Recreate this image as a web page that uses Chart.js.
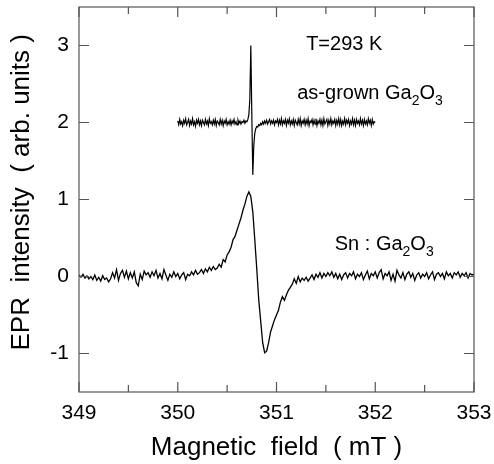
<!DOCTYPE html>
<html>
<head>
<meta charset="utf-8">
<script src="https://cdn.jsdelivr.net/npm/chart.js@4.4.1/dist/chart.umd.min.js"></script>
<style>
html, body { margin: 0; padding: 0; background: #fff; }
#wrap { width: 494px; height: 464px; }
</style>
</head>
<body>
<div id="wrap"><canvas id="epr" width="494" height="464"></canvas></div>
<script>
// Sampling grids (mT)
const snStart = 349.0, snStep = 0.02;
const grownStart = 350.0, grownStep = 0.01;

// Sn:Ga2O3 spectrum
const snValues = [
	0.02,-0.01,0.03,-0.02,0.01,-0.03,0.00,-0.04,0.02,-0.05,
	-0.01,-0.06,0.01,-0.04,-0.02,-0.07,-0.03,0.05,-0.02,0.09,
	-0.05,0.04,0.08,-0.01,0.07,-0.03,0.05,-0.02,0.06,-0.08,
	-0.12,0.03,-0.04,0.07,0.02,0.05,-0.01,0.06,0.01,0.08,
	-0.02,0.04,-0.03,0.09,0.02,-0.05,0.03,-0.01,0.06,0.00,
	0.04,-0.03,0.02,0.05,-0.04,0.03,0.01,0.06,0.02,0.08,
	0.03,0.05,0.09,0.04,0.10,0.06,0.12,0.08,0.13,0.09,
	0.11,0.16,0.12,0.22,0.19,0.28,0.32,0.38,0.48,0.52,
	0.60,0.68,0.76,0.86,0.94,1.04,1.10,1.04,0.84,0.48,
	0.10,-0.30,-0.58,-0.86,-0.99,-0.97,-0.86,-0.72,-0.64,-0.56,
	-0.50,-0.44,-0.33,-0.26,-0.31,-0.24,-0.18,-0.14,-0.10,-0.03,
	-0.09,0.00,-0.07,-0.02,-0.05,-0.01,-0.06,-0.02,0.02,-0.04,
	0.03,-0.01,0.05,-0.02,0.04,0.00,0.05,0.01,0.06,-0.01,
	0.04,-0.03,0.03,-0.04,0.02,0.05,-0.02,0.04,0.01,0.06,
	-0.03,0.03,0.00,0.05,-0.04,0.02,0.07,-0.03,0.04,0.01,
	0.06,-0.02,0.05,0.09,-0.03,0.04,0.01,0.06,-0.05,0.03,
	-0.06,0.08,0.02,-0.02,0.05,-0.04,0.03,0.06,-0.01,0.04,
	-0.05,0.02,0.05,-0.02,0.03,0.00,0.05,-0.03,0.02,0.06,
	-0.04,0.03,0.05,0.00,0.04,-0.03,0.06,0.01,0.04,-0.02,
	0.05,0.02,0.06,-0.01,0.04,0.01,0.05,-0.02,0.04,0.02,
	0.03
];

// as-grown Ga2O3 spectrum (offset by +2)
const grownValues = [
	2.02,1.97,2.04,1.98,2.01,1.96,2.03,1.99,2.05,1.97,
	2.00,2.04,1.96,2.02,1.98,2.05,1.97,2.01,1.95,2.03,
	1.99,2.04,1.97,2.02,1.96,2.03,2.00,1.97,2.04,1.98,
	2.02,1.96,2.05,1.99,2.01,1.97,2.03,1.98,2.04,1.96,
	2.02,2.00,1.97,2.04,1.98,2.03,1.96,2.02,1.99,2.04,
	1.97,2.01,1.98,2.03,1.97,2.02,1.99,2.04,1.98,2.01,
	1.97,2.03,1.99,2.02,1.98,2.01,2.00,2.03,1.99,2.02,
	2.01,2.04,2.10,2.30,3.00,2.10,1.32,1.70,1.86,1.92,
	1.95,1.94,1.97,1.96,1.99,1.97,2.01,1.98,2.02,1.99,
	2.03,1.98,2.01,2.04,1.98,2.02,1.99,2.03,1.97,2.02,
	2.00,2.04,1.97,2.03,1.98,2.05,1.97,2.02,1.99,2.04,
	1.96,2.03,1.99,2.05,1.97,2.02,1.98,2.04,1.96,2.03,
	2.00,1.97,2.04,1.98,2.05,1.96,2.02,1.99,2.04,1.97,
	2.03,1.98,2.05,1.96,2.02,2.00,2.04,1.97,2.03,1.98,
	2.05,1.96,2.02,1.99,2.04,1.97,2.03,1.96,2.05,1.98,
	2.01,2.04,1.96,2.03,1.98,2.05,1.97,2.02,1.99,2.04,
	1.96,2.03,1.98,2.05,1.97,2.04,1.96,2.02,1.98,2.05,
	1.97,2.03,1.99,2.04,1.96,2.02,1.98,2.05,1.97,2.03,
	1.96,2.04,1.99,2.02,1.97,2.05,1.98,2.03,1.96,2.04,
	1.98,2.02,1.97,2.05,1.99,2.03,1.96,2.04,1.98,2.01,
	2.00
];

// Axis ticks
const xMajorTicks = [349, 350, 351, 352, 353];
const xMinorTicks = [349.5, 350.5, 351.5, 352.5];
const yTicks = [-1, 0, 1, 2, 3];

// Text labels inside the plot: [x, y(baseline), parts]
const notes = [
	{ x: 351.30, y: 2.94, parts: [['T=293 K']] },
	{ x: 351.21, y: 2.30, parts: [['as-grown Ga'], ['2', true], ['O'], ['3', true]] },
	{ x: 351.59, y: 0.34, parts: [['Sn : Ga'], ['2', true], ['O'], ['3', true]] },
];

const FONT = '"Liberation Sans", Arial, Helvetica, sans-serif';

function toPoints(start, step, values) {
	return values.map((v, i) => ({ x: start + step * i, y: v }));
}

// no extra room for edge labels, layout padding handles it
function noEdgePadding(scale) {
	scale.paddingTop = 0;
	scale.paddingBottom = 0;
	scale.paddingLeft = 0;
	scale.paddingRight = 0;
}

// Frame with inward ticks, like the original plot
const frameTicks = {
	id: 'frameTicks',
	afterDatasetsDraw(chart) {
		const { ctx, chartArea: a, scales: { x, y } } = chart;
		ctx.save();
		ctx.strokeStyle = '#555';
		ctx.lineWidth = 1.2;
		ctx.strokeRect(a.left, a.top, a.right - a.left, a.bottom - a.top);
		ctx.beginPath();
		const xTick = (v, len) => {
			const px = x.getPixelForValue(v);
			ctx.moveTo(px, a.bottom); ctx.lineTo(px, a.bottom - len);
			ctx.moveTo(px, a.top); ctx.lineTo(px, a.top + len);
		};
		xMajorTicks.forEach(v => xTick(v, 10));
		xMinorTicks.forEach(v => xTick(v, 7));
		yTicks.forEach(v => {
			const py = y.getPixelForValue(v);
			ctx.moveTo(a.left, py); ctx.lineTo(a.left + 10, py);
			ctx.moveTo(a.right, py); ctx.lineTo(a.right - 10, py);
		});
		ctx.stroke();
		ctx.restore();
	}
};

// Labels with subscripts
const noteLabels = {
	id: 'noteLabels',
	afterDatasetsDraw(chart) {
		const { ctx, scales: { x, y } } = chart;
		ctx.save();
		ctx.fillStyle = '#000';
		ctx.textBaseline = 'alphabetic';
		ctx.textAlign = 'left';
		for (const note of notes) {
			let px = x.getPixelForValue(note.x);
			const py = y.getPixelForValue(note.y);
			for (const [text, sub] of note.parts) {
				ctx.font = (sub ? '14px ' : '20px ') + FONT;
				ctx.fillText(text, px, sub ? py + 6 : py);
				px += ctx.measureText(text).width;
			}
		}
		ctx.restore();
	}
};

new Chart(document.getElementById('epr'), {
	type: 'line',
	data: {
		datasets: [
			{
				label: 'as-grown',
				data: toPoints(grownStart, grownStep, grownValues),
				borderColor: '#000',
				borderWidth: 1.2,
				pointRadius: 0,
				tension: 0,
			},
			{
				label: 'Sn',
				data: toPoints(snStart, snStep, snValues),
				borderColor: '#000',
				borderWidth: 1.3,
				pointRadius: 0,
				tension: 0,
			},
		]
	},
	options: {
		responsive: false,
		devicePixelRatio: 1,
		animation: false,
		layout: { padding: { left: 0, top: 7, right: 20, bottom: 0 } },
		plugins: {
			legend: { display: false },
			tooltip: { enabled: false },
		},
		scales: {
			x: {
				type: 'linear',
				min: 349,
				max: 353,
				afterBuildTicks: (scale) => { scale.ticks = xMajorTicks.map(v => ({ value: v })); },
				afterFit: (scale) => { scale.height = 72; noEdgePadding(scale); },
				grid: { display: false, drawTicks: false },
				border: { display: false },
				ticks: { color: '#000', padding: 9, font: { family: FONT, size: 21 } },
				title: {
					display: true,
					text: 'Magnetic  field  ( mT )',
					color: '#000',
					font: { family: FONT, size: 26 },
					padding: { top: 0, bottom: 1 },
				},
			},
			y: {
				type: 'linear',
				min: -1.5,
				max: 3.5,
				afterBuildTicks: (scale) => { scale.ticks = yTicks.map(v => ({ value: v })); },
				afterFit: (scale) => { scale.width = 79; noEdgePadding(scale); },
				grid: { display: false, drawTicks: false },
				border: { display: false },
				ticks: { color: '#000', padding: 10, font: { family: FONT, size: 21 } },
				title: {
					display: true,
					text: '  EPR  intensity  ( arb. units )',
					color: '#000',
					font: { family: FONT, size: 26 },
					padding: { top: 6, bottom: 0 },
				},
			},
		},
	},
	plugins: [frameTicks, noteLabels],
});
</script>
</body>
</html>
